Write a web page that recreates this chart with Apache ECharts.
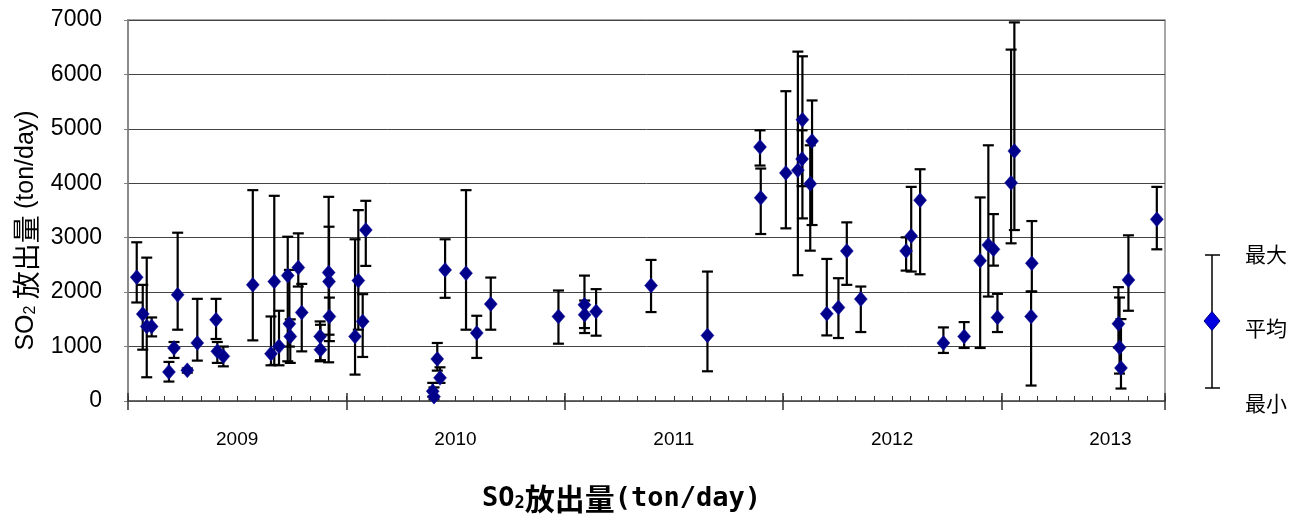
<!DOCTYPE html>
<html>
<head>
<meta charset="utf-8">
<script src="https://cdn.jsdelivr.net/npm/echarts@6/dist/echarts.min.js"></script>
<style>html,body{margin:0;padding:0;background:#fff;}#c{width:1308px;height:519px;}</style>
</head>
<body>
<div id="c"></div>
<script>
// x position: months since 2009-01-01
var months = [0.48,0.81,1.03,1.30,2.25,2.53,2.73,3.26,3.81,4.84,4.91,5.24,6.86,7.86,8.04,8.30,8.78,8.87,8.92,9.36,9.55,10.56,10.58,11.03,11.05,11.07,12.48,12.66,12.90,13.07,16.75,16.82,17.0,17.15,17.43,18.58,19.17,19.94,23.66,25.09,25.10,25.73,28.75,31.85,34.74,34.78,36.16,36.82,37.05,37.07,37.5,37.6,38.41,39.05,39.51,40.28,42.77,43.05,43.54,44.82,45.96,46.84,47.29,47.57,47.79,48.54,48.72,49.68,49.64,54.44,54.50,54.58,54.99,56.55];
var avgVal = [2275,1597,1370,1370,535,974,1951,564,1066,1493,912,821,2134,870,2194,1004,2304,1419,1187,2451,1627,1187,943,2359,2194,1553,1187,2212,1462,3141,180,80,773,425,2408,2348,1249,1780,1553,1767,1584,1645,2121,1205,4667,3733,4191,4240,4447,5168,3990,4777,1603,1718,2756,1872,2756,3031,3690,1066,1187,2579,2866,2787,1535,4008,4593,2531,1553,1419,985,608,2225,3337];
var maxVal = [2916,2134,2634,1535,718,1084,3092,600,1877,1877,1084,1000,3874,1553,3770,1658,3018,2408,1500,3080,2152,1462,1400,3751,3202,1900,2971,3507,1963,3678,333,250,1066,619,2971,3874,1566,2268,2030,2304,1846,2055,2592,2378,4973,4271,5692,6419,4973,6333,4698,5522,2610,2256,3282,2103,3007,3934,4258,1352,1450,3740,4698,3434,1969,6456,6956,3306,2011,2091,1901,1505,3044,3934];
var minVal = [1810,943,436,1187,357,791,1310,520,742,1139,700,637,1114,656,663,656,729,1000,700,2103,912,729,750,711,1218,1100,485,1310,809,2482,80,30,558,333,1896,1310,791,1310,1053,1340,1249,1200,1634,546,4326,3068,3172,2311,3947,3355,2762,3233,1205,1157,2134,1267,2396,2378,2329,883,974,974,1919,2487,1267,2897,3141,2011,284,985,504,229,1658,2787];
var yearLabels = ['2009','2010','2011','2012','2013'];
var legendLabels = ['最大','平均','最小'];

var barData = months.map(function(m,i){return [m, avgVal[i], maxVal[i], minVal[i]];});
var ptData = months.map(function(m,i){return [m, avgVal[i]];});

var chart = echarts.init(document.getElementById('c'));
var baseX = {type:'value', min:0, max:57, position:'bottom', splitLine:{show:false}};
chart.setOption({
  animation:false,
  grid:{left:128, right:143, top:20, bottom:118, show:true, borderColor:'#8a8a8a', borderWidth:1.5, containLabel:false},
  xAxis:[
    Object.assign({}, baseX, {interval:12, axisLine:{show:true, lineStyle:{color:'#555', width:1.5}}, axisTick:{show:true, inside:true, length:8, lineStyle:{color:'#333', width:1.5}}, axisLabel:{show:false}}),
    Object.assign({}, baseX, {interval:12, axisLine:{show:false}, axisTick:{show:true, inside:false, length:9, lineStyle:{color:'#333', width:1.5}}, axisLabel:{show:false}}),
    Object.assign({}, baseX, {interval:1, axisLine:{show:false}, axisTick:{show:true, inside:true, length:5, lineStyle:{color:'#333', width:1}}, axisLabel:{show:false}}),
    Object.assign({}, baseX, {interval:6, axisLine:{show:false}, axisTick:{show:false},
      axisLabel:{show:true, margin:29, fontSize:19, color:'#000', fontFamily:'Liberation Sans', showMaxLabel:false, showMinLabel:false,
        formatter:function(v){ if (Math.round(v)%12===6){ return yearLabels[(Math.round(v)-6)/12] || ''; } return ''; }}})
  ],
  yAxis:{type:'value', min:0, max:7000, interval:1000,
    axisLine:{show:true, lineStyle:{color:'#808080', width:1.5}},
    axisTick:{show:true, length:4, lineStyle:{color:'#808080'}},
    splitLine:{show:true, lineStyle:{color:'#444', width:1}},
    axisLabel:{fontSize:23, color:'#000', fontFamily:'Liberation Sans', margin:26, formatter:function(v){return String(v);}},
    name:'{a|SO}{s|2}{c| 放出量 }{a|(ton/day)}', nameLocation:'middle', nameGap:80, nameRotate:90,
    nameTextStyle:{color:'#000', padding:[0,40,0,0], rich:{
      a:{fontSize:25, fontFamily:'Liberation Sans', color:'#000', lineHeight:30},
      s:{fontSize:16, fontFamily:'Liberation Sans', color:'#000', lineHeight:30, padding:[10,0,0,0]},
      c:{fontSize:28, fontFamily:'Noto Sans CJK JP', color:'#000', lineHeight:30}
    }}
  },
  series:[
    {type:'custom', xAxisIndex:0, data:barData, z:2,
      renderItem:function(params, api){
        var x = api.value(0), hi = api.value(2), lo = api.value(3);
        var t = api.coord([x, hi]), b = api.coord([x, lo]);
        var w = 5.5;
        var st = {stroke:'#000', lineWidth:2.2};
        return {type:'group', children:[
          {type:'line', shape:{x1:t[0], y1:t[1], x2:b[0], y2:b[1]}, style:st},
          {type:'line', shape:{x1:t[0]-w, y1:t[1], x2:t[0]+w, y2:t[1]}, style:st},
          {type:'line', shape:{x1:b[0]-w, y1:b[1], x2:b[0]+w, y2:b[1]}, style:st}
        ]};
      }},
    {type:'scatter', xAxisIndex:0, data:ptData, symbol:'diamond', symbolSize:[13,15], z:3,
      itemStyle:{color:'#00008b', borderColor:'#1a1aa0', borderWidth:0.5, opacity:1}}
  ],
  graphic:[
    {type:'line', shape:{x1:1212, y1:255, x2:1212, y2:388}, style:{stroke:'#000', lineWidth:1.5}},
    {type:'line', shape:{x1:1205, y1:255, x2:1220, y2:255}, style:{stroke:'#000', lineWidth:1.5}},
    {type:'line', shape:{x1:1205, y1:388, x2:1220, y2:388}, style:{stroke:'#000', lineWidth:1.5}},
    {type:'polygon', shape:{points:[[1212,311.5],[1220,321],[1212,330.5],[1204,321]]}, style:{fill:'#0000e0', stroke:'#000080', lineWidth:1}},
    {type:'text', x:1245, y:254, style:{text:legendLabels[0], font:'21px "Noto Sans CJK JP"', fill:'#000', verticalAlign:'middle'}},
    {type:'text', x:1245, y:328, style:{text:legendLabels[1], font:'21px "Noto Sans CJK JP"', fill:'#000', verticalAlign:'middle'}},
    {type:'text', x:1245, y:403, style:{text:legendLabels[2], font:'21px "Noto Sans CJK JP"', fill:'#000', verticalAlign:'middle'}},
    {type:'text', x:482, y:499, style:{text:'{l|SO}{s|2}{c|放出量}{l|(ton/day)}', verticalAlign:'middle', rich:{
      l:{fontSize:27, fontFamily:'DejaVu Sans Mono', fontWeight:'bold', fill:'#000', lineHeight:32},
      s:{fontSize:17, fontFamily:'DejaVu Sans Mono', fontWeight:'bold', fill:'#000', lineHeight:32, padding:[10,0,0,0]},
      c:{fontSize:30, fontFamily:'Noto Sans CJK JP', fontWeight:'bold', fill:'#000', lineHeight:32}
    }}}
  ]
});
</script>
</body>
</html>
